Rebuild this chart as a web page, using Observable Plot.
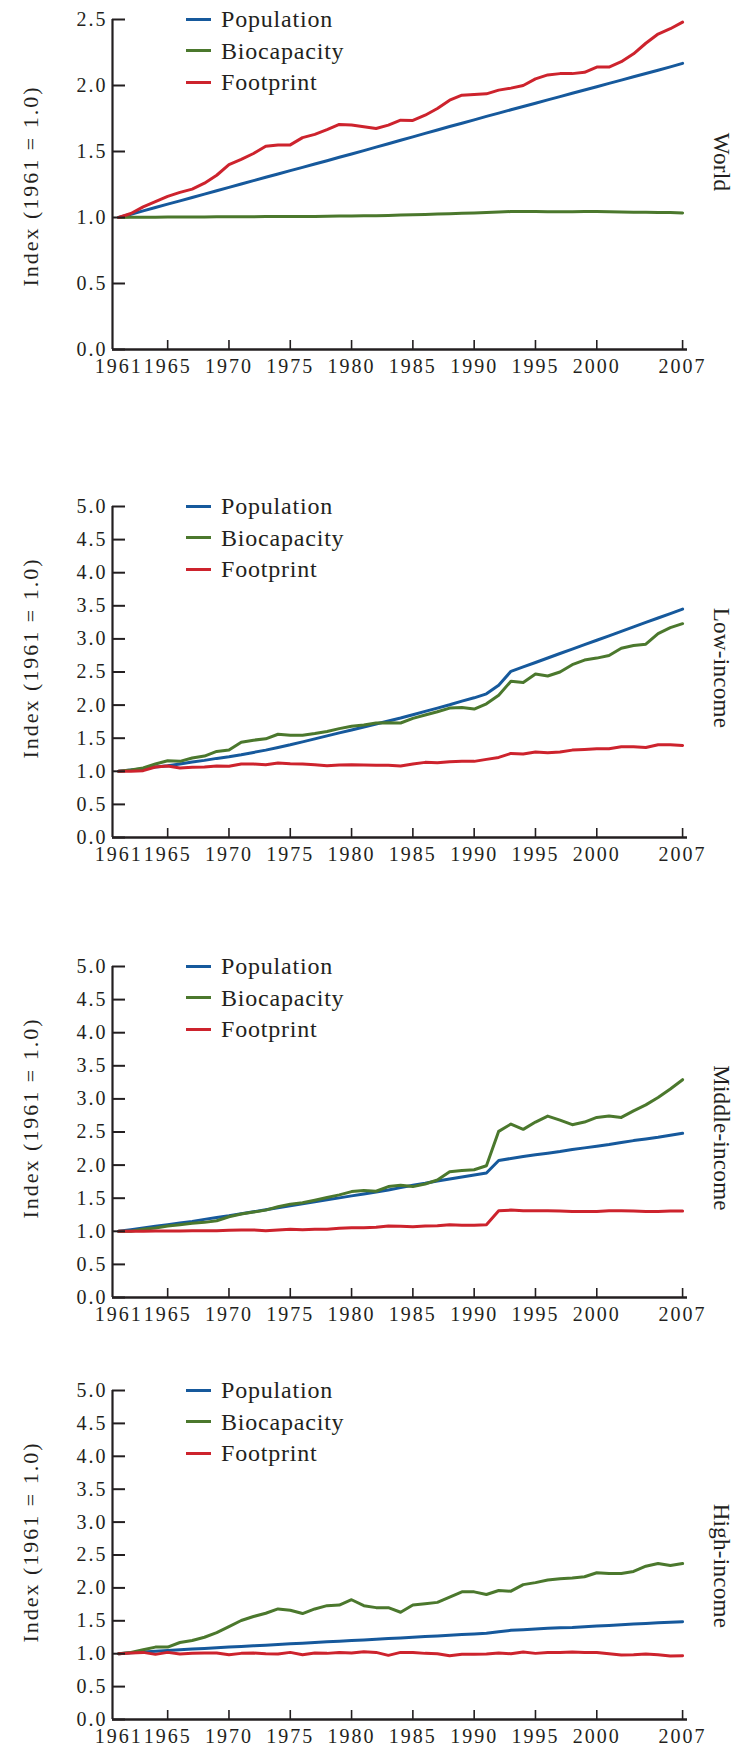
<!DOCTYPE html>
<html><head><meta charset="utf-8">
<script src="https://cdn.jsdelivr.net/npm/d3@7"></script>
<script src="https://cdn.jsdelivr.net/npm/@observablehq/plot@0.6"></script>
<style>
html,body{margin:0;padding:0;background:#fff;}
body{width:743px;height:1745px;overflow:hidden;position:relative;font-family:"Liberation Serif",serif;color:#231f20;}
.abs{position:absolute;}
.rot{position:absolute;white-space:nowrap;line-height:1;}
.ylab{font-size:22px;letter-spacing:2px;transform:translate(-50%,-50%) rotate(-90deg);}
.title{font-size:23px;letter-spacing:0.3px;transform:translate(-50%,-50%) rotate(90deg);}
.sw{position:absolute;width:25px;height:3px;}
.lt{position:absolute;font-size:24px;line-height:24px;letter-spacing:0.8px;white-space:nowrap;}
</style></head>
<body>
<script>
// ---------- data ----------
const years = [1961,1962,1963,1964,1965,1966,1967,1968,1969,1970,1971,1972,1973,1974,1975,1976,1977,1978,1979,1980,1981,1982,1983,1984,1985,1986,1987,1988,1989,1990,1991,1992,1993,1994,1995,1996,1997,1998,1999,2000,2001,2002,2003,2004,2005,2006,2007];
const seriesNames = ["Population", "Biocapacity", "Footprint"];
const panelNames = ["World", "Low-income", "Middle-income", "High-income"];
const xTickLabels = [1961, 1965, 1970, 1975, 1980, 1985, 1990, 1995, 2000, 2007];
const yTicksWorld = [0, 0.5, 1.0, 1.5, 2.0, 2.5];
const yTicksIncome = [0, 0.5, 1.0, 1.5, 2.0, 2.5, 3.0, 3.5, 4.0, 4.5, 5.0];
const yLabel = "Index (1961 = 1.0)";

const worldPopulation = [1.000,1.025,1.050,1.076,1.101,1.126,1.152,1.177,1.203,1.228,1.254,1.279,1.305,1.330,1.355,1.380,1.405,1.430,1.456,1.481,1.507,1.533,1.559,1.585,1.611,1.637,1.663,1.689,1.714,1.740,1.766,1.791,1.816,1.841,1.866,1.891,1.916,1.941,1.966,1.991,2.016,2.041,2.066,2.091,2.116,2.141,2.168];
const worldBiocapacity = [1.000,1.001,1.002,1.002,1.003,1.003,1.004,1.004,1.005,1.005,1.006,1.006,1.007,1.007,1.007,1.008,1.008,1.009,1.011,1.012,1.013,1.014,1.016,1.018,1.020,1.023,1.026,1.029,1.032,1.035,1.038,1.042,1.045,1.045,1.045,1.044,1.044,1.044,1.045,1.045,1.044,1.042,1.040,1.039,1.038,1.037,1.035];
const worldFootprint = [1.00,1.03,1.08,1.12,1.16,1.19,1.215,1.26,1.32,1.40,1.44,1.485,1.54,1.55,1.55,1.605,1.63,1.665,1.705,1.70,1.687,1.674,1.70,1.737,1.735,1.775,1.826,1.889,1.927,1.932,1.937,1.965,1.98,2.00,2.05,2.08,2.09,2.09,2.10,2.14,2.14,2.18,2.24,2.32,2.39,2.43,2.48];

const lowPopulation = [1.00,1.02,1.04,1.065,1.085,1.11,1.14,1.165,1.195,1.22,1.25,1.285,1.32,1.36,1.40,1.445,1.49,1.535,1.58,1.625,1.67,1.715,1.76,1.805,1.855,1.905,1.955,2.005,2.06,2.11,2.17,2.30,2.51,2.577,2.644,2.711,2.779,2.846,2.913,2.98,3.047,3.114,3.181,3.249,3.316,3.383,3.45];
const lowBiocapacity = [1.00,1.02,1.05,1.11,1.16,1.15,1.20,1.23,1.30,1.32,1.44,1.47,1.49,1.56,1.545,1.545,1.57,1.60,1.645,1.68,1.70,1.73,1.735,1.73,1.80,1.85,1.90,1.955,1.965,1.94,2.02,2.15,2.36,2.34,2.47,2.44,2.50,2.61,2.68,2.71,2.75,2.86,2.90,2.92,3.08,3.17,3.23];
const lowFootprint = [1.00,1.00,1.01,1.065,1.08,1.05,1.06,1.065,1.08,1.075,1.11,1.11,1.10,1.125,1.115,1.11,1.10,1.085,1.095,1.10,1.095,1.09,1.09,1.08,1.11,1.135,1.13,1.145,1.15,1.15,1.18,1.21,1.27,1.26,1.29,1.28,1.29,1.32,1.33,1.34,1.34,1.37,1.37,1.36,1.40,1.40,1.39];

const middlePopulation = [1.00,1.025,1.05,1.075,1.10,1.125,1.15,1.18,1.21,1.235,1.265,1.295,1.325,1.355,1.385,1.415,1.445,1.475,1.505,1.535,1.565,1.595,1.625,1.66,1.695,1.725,1.76,1.79,1.82,1.85,1.88,2.07,2.10,2.13,2.155,2.18,2.205,2.235,2.26,2.285,2.31,2.34,2.37,2.395,2.42,2.45,2.48];
const middleBiocapacity = [1.00,1.00,1.03,1.05,1.08,1.10,1.12,1.135,1.16,1.22,1.26,1.29,1.32,1.37,1.41,1.43,1.47,1.51,1.55,1.60,1.615,1.605,1.675,1.695,1.675,1.715,1.775,1.90,1.92,1.93,1.99,2.51,2.62,2.54,2.65,2.74,2.68,2.61,2.65,2.72,2.74,2.72,2.82,2.91,3.02,3.15,3.29];
const middleFootprint = [1.00,1.00,1.00,1.005,1.005,1.005,1.01,1.01,1.01,1.015,1.02,1.02,1.01,1.02,1.03,1.025,1.03,1.03,1.045,1.055,1.055,1.06,1.08,1.075,1.07,1.08,1.085,1.10,1.09,1.09,1.10,1.31,1.32,1.31,1.31,1.31,1.305,1.30,1.30,1.30,1.31,1.31,1.305,1.30,1.30,1.305,1.305];

const highPopulation = [1.00,1.013,1.026,1.038,1.05,1.06,1.07,1.08,1.09,1.10,1.11,1.12,1.13,1.14,1.15,1.16,1.17,1.18,1.19,1.20,1.21,1.22,1.23,1.24,1.25,1.26,1.27,1.28,1.29,1.30,1.31,1.335,1.355,1.365,1.375,1.385,1.395,1.40,1.41,1.42,1.43,1.44,1.45,1.46,1.47,1.478,1.485];
const highBiocapacity = [1.00,1.02,1.06,1.10,1.10,1.17,1.20,1.25,1.32,1.41,1.505,1.565,1.615,1.68,1.66,1.61,1.68,1.73,1.74,1.82,1.73,1.70,1.70,1.63,1.74,1.76,1.78,1.86,1.94,1.94,1.90,1.96,1.95,2.05,2.08,2.12,2.14,2.15,2.17,2.23,2.22,2.22,2.25,2.33,2.37,2.34,2.37];
const highFootprint = [1.00,1.01,1.02,0.99,1.02,0.995,1.005,1.01,1.01,0.985,1.005,1.01,1.00,0.995,1.02,0.985,1.01,1.005,1.02,1.01,1.03,1.02,0.975,1.02,1.02,1.005,1.00,0.97,0.99,0.99,0.995,1.01,1.00,1.025,1.005,1.02,1.02,1.025,1.02,1.02,1.00,0.98,0.985,0.995,0.985,0.965,0.97];

// ---------- style / layout ----------
const seriesColors = ["#16599c", "#4b782d", "#cd232d"];
const ink = "#231f20";
const xDomain = [1960.5, 2007.4];
const panels = [
  {title: panelNames[0], values: [worldPopulation, worldBiocapacity, worldFootprint], yTicks: yTicksWorld, top: 0, plotH: 330, titleY: 162, labelY: 186},
  {title: panelNames[1], values: [lowPopulation, lowBiocapacity, lowFootprint], yTicks: yTicksIncome, top: 487, plotH: 331, titleY: 668, labelY: 658},
  {title: panelNames[2], values: [middlePopulation, middleBiocapacity, middleFootprint], yTicks: yTicksIncome, top: 947, plotH: 331, titleY: 1138, labelY: 1118},
  {title: panelNames[3], values: [highPopulation, highBiocapacity, highFootprint], yTicks: yTicksIncome, top: 1371, plotH: 329, titleY: 1566, labelY: 1542}
];
const MT = 19, MB = 32, ML = 112, MR = 56;

for (const p of panels) {
  const rows = [];
  seriesNames.forEach((s, k) => p.values[k].forEach((v, i) => rows.push({year: years[i], value: v, series: s})));
  const yMax = p.yTicks[p.yTicks.length - 1];
  const chart = Plot.plot({
    width: 743,
    height: MT + p.plotH + MB,
    marginTop: MT, marginBottom: MB, marginLeft: ML, marginRight: MR,
    x: {domain: xDomain},
    y: {domain: [0, yMax]},
    color: {domain: seriesNames, range: seriesColors},
    style: {fontFamily: "'Liberation Serif', serif", fontSize: "20px", color: ink, background: "transparent", overflow: "visible", letterSpacing: "2px"},
    marks: [
      Plot.lineY(rows, {x: "year", y: "value", z: "series", stroke: "series", strokeWidth: 3, strokeLinejoin: "round"}),
      Plot.ruleX(xTickLabels.slice(1), {y1: 0, y2: 0, insetBottom: 9, stroke: ink, strokeWidth: 1.6}),
      Plot.ruleY(p.yTicks, {x1: xDomain[0], x2: xDomain[0], insetRight: -13, stroke: ink, strokeWidth: 2}),
      Plot.ruleY([0], {stroke: ink, strokeWidth: 2.4}),
      Plot.ruleX([xDomain[0]], {stroke: ink, strokeWidth: 2.2}),
      Plot.axisX(xTickLabels, {tickSize: 0, tickPadding: 9, tickFormat: d => String(d), label: null, fill: ink}),
      Plot.axisY(p.yTicks, {tickSize: 0, tickPadding: 5, tickFormat: d3.format(".1f"), label: null, fill: ink})
    ]
  });
  const wrap = document.createElement("div");
  wrap.className = "abs";
  wrap.style.left = "0px";
  wrap.style.top = p.top + "px";
  wrap.appendChild(chart);
  document.body.appendChild(wrap);

  // legend inside plot area
  const plotTop = p.top + MT;
  seriesNames.forEach((s, k) => {
    const rowY = plotTop + k * 31.7;
    const sw = document.createElement("div");
    sw.className = "sw";
    sw.style.left = "186px";
    sw.style.top = (rowY - 1.5) + "px";
    sw.style.background = seriesColors[k];
    document.body.appendChild(sw);
    const t = document.createElement("div");
    t.className = "lt";
    t.style.left = "221px";
    t.style.top = (rowY - 12) + "px";
    t.textContent = s;
    document.body.appendChild(t);
  });

  const yl = document.createElement("div");
  yl.className = "rot ylab";
  yl.style.left = "31px";
  yl.style.top = p.labelY + "px";
  yl.textContent = yLabel;
  document.body.appendChild(yl);

  const tt = document.createElement("div");
  tt.className = "rot title";
  tt.style.left = "721px";
  tt.style.top = p.titleY + "px";
  tt.textContent = p.title;
  document.body.appendChild(tt);
}
</script>
</body></html>
